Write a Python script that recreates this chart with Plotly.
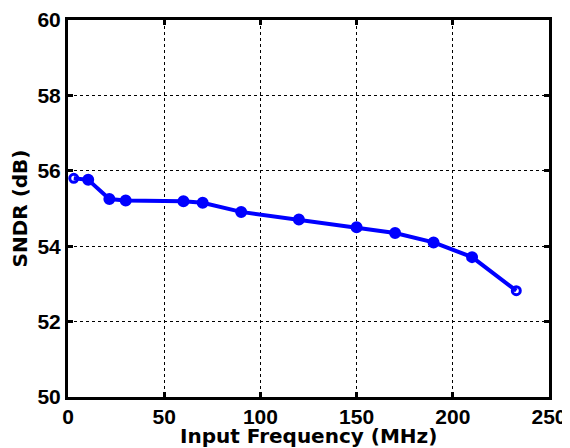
import plotly.graph_objects as go

freq_mhz = [3, 10.5, 21.5, 30, 60, 70, 90, 120, 150, 170, 190, 210, 233]
sndr_db = [55.8, 55.76, 55.25, 55.21, 55.19, 55.15, 54.91, 54.71, 54.5, 54.35, 54.1, 53.71, 52.82]
x_ticks = [0, 50, 100, 150, 200, 250]
y_ticks = [50, 52, 54, 56, 58, 60]
x_title = "Input Frequency (MHz)"
y_title = "SNDR (dB)"

n = len(freq_mhz)
symbols = ["circle-open"] + ["circle"] * (n - 2) + ["circle-open"]
sizes = [8] + [10] * (n - 2) + [8]
lw = [3] + [2] * (n - 2) + [3]

fig = go.Figure()
fig.add_trace(go.Scatter(
    x=freq_mhz, y=sndr_db, mode="lines+markers",
    line=dict(color="#0000FF", width=4),
    marker=dict(symbol=symbols, size=sizes, color="#0000FF", opacity=1,
                line=dict(color="#0000FF", width=lw)),
    showlegend=False, cliponaxis=False,
))

tick_font = dict(family="Liberation Sans, Arial, sans-serif", size=21, color="black", weight="bold")
title_font = dict(family="DejaVu Sans, sans-serif", size=20, color="black", weight="bold")

axis_common = dict(
    showline=True, linecolor="black", linewidth=3, mirror="allticks",
    ticks="inside", ticklen=5, tickwidth=3, tickcolor="black",
    showgrid=True, gridcolor="black", gridwidth=1, griddash="dot",
    zeroline=False, tickfont=tick_font, automargin=False,
)

fig.update_layout(
    width=570, height=448,
    margin=dict(l=60, r=29, t=12, b=59),
    paper_bgcolor="white", plot_bgcolor="white",
    xaxis=dict(range=[0, 250], tickvals=x_ticks,
               ticklabelstandoff=-1, **axis_common),
    yaxis=dict(range=[50, 60], tickvals=y_ticks,
               title=dict(text=y_title, font=title_font, standoff=10),
               ticklabelstandoff=0, **axis_common),
    annotations=[dict(text=x_title, font=title_font, showarrow=False,
                      xref="paper", yref="paper", x=0.5, y=0,
                      xanchor="center", yanchor="middle", yshift=-39)],
)

fig.write_html("out.html")
